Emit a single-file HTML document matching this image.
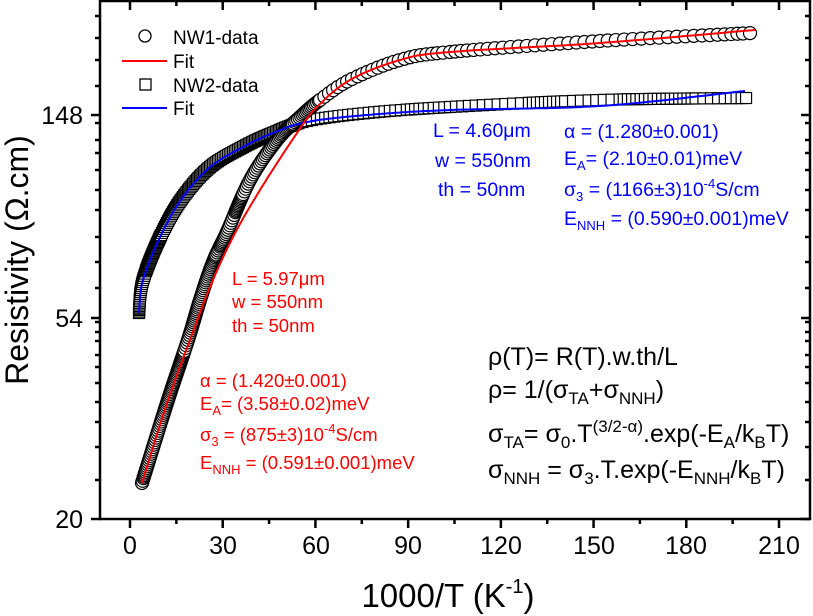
<!DOCTYPE html>
<html><head><meta charset="utf-8"><style>
html,body{margin:0;padding:0;background:#fff;}
svg{display:block;font-family:"Liberation Sans",Arial,sans-serif;}
</style></head><body>
<svg id="s" width="813" height="616" viewBox="0 0 813 616" xmlns="http://www.w3.org/2000/svg">
<g id="data"></g>
<rect x="100" y="1" width="710" height="518" fill="none" stroke="#000" stroke-width="2.5"/>
<g id="ticks" stroke="#000" stroke-width="2.5"></g>
<g font-size="25" fill="#000" text-anchor="middle">
<text x="130" y="554">0</text><text x="223" y="554">30</text><text x="316" y="554">60</text><text x="408" y="554">90</text><text x="501" y="554">120</text><text x="594" y="554">150</text><text x="686" y="554">180</text><text x="779" y="554">210</text>
</g>
<g font-size="25" fill="#000" text-anchor="end">
<text x="83" y="124">148</text><text x="83" y="327">54</text><text x="83" y="528">20</text>
</g>
<text x="448" y="607" font-size="33" text-anchor="middle">1000/T (K<tspan font-size="20" dy="-14">-1</tspan><tspan dy="14">)</tspan></text>
<text transform="translate(28,260) rotate(-90)" font-size="32" text-anchor="middle">Resistivity (Ω.cm)</text>
<!-- legend -->
<circle cx="145" cy="36" r="6" fill="#fff" stroke="#000" stroke-width="1.3"/>
<text x="173" y="44" font-size="19">NW1-data</text>
<line x1="122" y1="61" x2="167" y2="61" stroke="#f00" stroke-width="2"/>
<text x="173" y="68" font-size="19">Fit</text>
<rect x="140" y="79" width="11" height="11" fill="#fff" stroke="#000" stroke-width="1.3"/>
<text x="173" y="92" font-size="19">NW2-data</text>
<line x1="122" y1="108" x2="167" y2="108" stroke="#00f" stroke-width="2"/>
<text x="173" y="115" font-size="19">Fit</text>
<!-- blue annotations -->
<g fill="#00f" font-size="19.5">
<text x="433" y="137">L = 4.60μm</text>
<text x="435" y="167">w = 550nm</text>
<text x="438" y="196">th = 50nm</text>
<text x="564" y="138">α = (1.280±0.001)</text>
<text x="564" y="165">E<tspan font-size="13" dy="5">A</tspan><tspan dy="-5">= (2.10±0.01)meV</tspan></text>
<text x="564" y="196">σ<tspan font-size="13" dy="5">3</tspan><tspan dy="-5"> = (1166±3)10</tspan><tspan font-size="13" dy="-8">-4</tspan><tspan dy="8">S/cm</tspan></text>
<text x="564" y="225">E<tspan font-size="13" dy="5">NNH</tspan><tspan dy="-5"> = (0.590±0.001)meV</tspan></text>
</g>
<g fill="#f00" font-size="18.5">
<text x="232" y="285">L = 5.97μm</text>
<text x="232" y="308">w = 550nm</text>
<text x="232" y="332">th = 50nm</text>
<text x="200" y="387">α = (1.420±0.001)</text>
<text x="200" y="410">E<tspan font-size="13" dy="5">A</tspan><tspan dy="-5">= (3.58±0.02)meV</tspan></text>
<text x="200" y="441">σ<tspan font-size="13" dy="5">3</tspan><tspan dy="-5"> = (875±3)10</tspan><tspan font-size="13" dy="-8">-4</tspan><tspan dy="8">S/cm</tspan></text>
<text x="200" y="469">E<tspan font-size="13" dy="5">NNH</tspan><tspan dy="-5"> = (0.591±0.001)meV</tspan></text>
</g>
<g fill="#000" font-size="25">
<text x="488" y="365">ρ(T)= R(T).w.th/L</text>
<text x="488" y="398">ρ= 1/(σ<tspan font-size="17" dy="6">TA</tspan><tspan dy="-6">+σ</tspan><tspan font-size="17" dy="6">NNH</tspan><tspan dy="-6">)</tspan></text>
<text x="488" y="442">σ<tspan font-size="17" dy="6">TA</tspan><tspan dy="-6">= σ</tspan><tspan font-size="17" dy="6">0</tspan><tspan dy="-6">.T</tspan><tspan font-size="17" dy="-10">(3/2-α)</tspan><tspan dy="10">.exp(-E</tspan><tspan font-size="17" dy="6">A</tspan><tspan dy="-6">/k</tspan><tspan font-size="17" dy="6">B</tspan><tspan dy="-6">T)</tspan></text>
<text x="488" y="478">σ<tspan font-size="17" dy="6">NNH</tspan><tspan dy="-6"> = σ</tspan><tspan font-size="17" dy="6">3</tspan><tspan dy="-6">.T.exp(-E</tspan><tspan font-size="17" dy="6">NNH</tspan><tspan dy="-6">/k</tspan><tspan font-size="17" dy="6">B</tspan><tspan dy="-6">T)</tspan></text>
</g>
</svg>
<script>
(function(){
var NS="http://www.w3.org/2000/svg";
function el(p,t,a){var e=document.createElementNS(NS,t);for(var k in a)e.setAttribute(k,a[k]);p.appendChild(e);return e;}
var tk=document.getElementById('ticks');
for(var v=0;v<=210;v+=15){var x=130+v*3.0905;var maj=v%30==0;
 el(tk,'line',{x1:x,y1:519,x2:x,y2:519+(maj?9:5)});
 el(tk,'line',{x1:x,y1:1,x2:x,y2:1+(maj?9:5)});}
var maj=[115,318,519];
var minY=[16,38,60,86,123,140,153,170,190,210,237,262,288,322,332,341,355,367,383,402,422,447,480];
maj.forEach(function(y){el(tk,'line',{x1:100,y1:y,x2:91,y2:y});el(tk,'line',{x1:810,y1:y,x2:801,y2:y});});
minY.forEach(function(y){el(tk,'line',{x1:100,y1:y,x2:95,y2:y});el(tk,'line',{x1:810,y1:y,x2:805,y2:y});});
function cr(pts,n){var out=[];for(var i=0;i<pts.length-1;i++){var p0=pts[Math.max(0,i-1)],p1=pts[i],p2=pts[i+1],p3=pts[Math.min(pts.length-1,i+2)];
 for(var j=0;j<n;j++){var t=j/n,t2=t*t,t3=t2*t;
 var f=function(a,b,c,d){return 0.5*((2*b)+(-a+c)*t+(2*a-5*b+4*c-d)*t2+(-a+3*b-3*c+d)*t3);};
 out.push([f(p0[0],p1[0],p2[0],p3[0]),f(p0[1],p1[1],p2[1],p3[1])]);}}
 out.push(pts[pts.length-1]);return out;}
var g=document.getElementById('data');
var blueFit=[[139,313],[143,280],[162,233],[183,197],[210,167],[243,147],[273,133],[307,122],[367,115],[450,110],[600,106],[745,91]];
var sqData=[[139,313],[143,280],[162,233],[183,197],[210,167],[243,147],[273,133],[307,121],[367,113],[450,107],[600,100],[748,98]];
var redFit=[[142,483],[167,403],[190,340],[210,287],[233,237],[260,190],[297,133],[317,107],[350,80],[400,60],[450,52],[600,43],[755,30]];
var cData=[[142,483],[167,403],[188,340],[200,300],[213,262],[227,232],[250,180],[277,140],[300,117],[320,100],[350,80],[400,60],[450,52],[600,41],[752,33]];
var sq=cr(sqData,40);var last=null;
sq.forEach(function(p){if(last&&Math.hypot(p[0]-last[0],p[1]-last[1])<(p[0]>300?4:1.2))return;last=p;
 el(g,'rect',{x:p[0]-5.5,y:p[1]-5.5,width:11,height:11,fill:'#fff',stroke:'#000','stroke-width':1.2});});
var cc=cr(cData,40);last=null;
cc.forEach(function(p){if(last&&Math.hypot(p[0]-last[0],p[1]-last[1])<(p[0]>320?5:1.5))return;last=p;
 el(g,'circle',{cx:p[0],cy:p[1],r:6.5,fill:'#fff',stroke:'#000','stroke-width':1.2});});
function pl(pts,c){el(g,'polyline',{points:cr(pts,20).map(function(p){return p[0].toFixed(1)+','+p[1].toFixed(1);}).join(' '),fill:'none',stroke:c,'stroke-width':2});}
pl(blueFit,'#00f');pl(redFit,'#f00');
})();
</script>
</body></html>
